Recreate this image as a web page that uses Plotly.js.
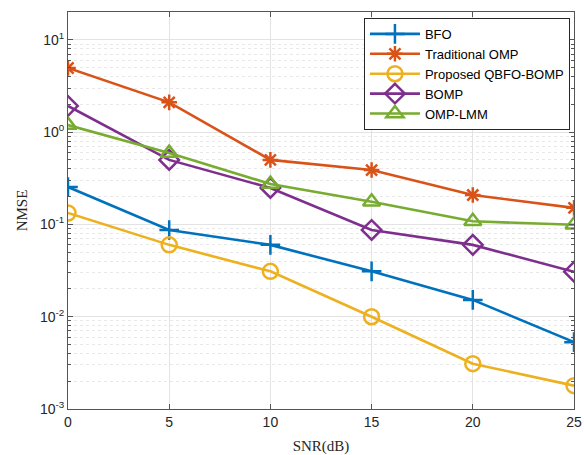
<!DOCTYPE html>
<html><head><meta charset="utf-8">
<script src="https://cdn.plot.ly/plotly-3.0.1.min.js"></script>
<style>html,body{margin:0;padding:0;background:#fff}</style>
</head><body>
<div id="chart" style="width:584px;height:455px"></div>
<script>
const snr = [0, 5, 10, 15, 20, 25];
const bfo = [0.254, 0.087, 0.060, 0.031, 0.0152, 0.0053];
const tradOmp = [4.95, 2.1, 0.50, 0.388, 0.208, 0.151];
const proposed = [0.133, 0.060, 0.031, 0.0100, 0.0031, 0.00179];
const bomp = [1.92, 0.50, 0.248, 0.087, 0.060, 0.0307];
const ompLmm = [1.19, 0.594, 0.274, 0.176, 0.108, 0.099];
const names = ['BFO', 'Traditional OMP', 'Proposed QBFO-BOMP', 'BOMP', 'OMP-LMM'];
const yTickVals = [0.001, 0.01, 0.1, 1, 10];
const yTickText = ['10<sup>-3</sup>', '10<sup>-2</sup>', '10<sup>-1</sup>', '10<sup>0</sup>', '10<sup>1</sup>'];
const xTickVals = [0, 5, 10, 15, 20, 25];

const colors = ['#0072BD', '#D95319', '#EDB120', '#7E2F8E', '#77AC30'];
const symbols = ['cross-thin-open', 'asterisk-open', 'circle-open', 'diamond-open', 'triangle-up-open'];
const sizes = [14, 13, 15, 15, 15];
const series = [bfo, tradOmp, proposed, bomp, ompLmm];

const traces = series.map((s, i) => ({
  x: snr, y: s, name: names[i], type: 'scatter', mode: 'lines+markers',
  line: {color: colors[i], width: 2.6},
  marker: {symbol: symbols[i], size: sizes[i], color: colors[i], line: {color: colors[i], width: 2.5}}
}));

const gridc = '#e3e3e3';
const layout = {
  width: 584, height: 455,
  margin: {l: 68, r: 10, t: 12, b: 46},
  paper_bgcolor: '#fff', plot_bgcolor: '#fff',
  font: {family: 'Liberation Sans, Arial, sans-serif', size: 14, color: '#262626'},
  showlegend: true,
  legend: {x: 0.992, xanchor: 'right', y: 0.985, yanchor: 'top', bgcolor: '#fff',
    bordercolor: '#262626', borderwidth: 1, font: {size: 13, color: '#000'},
    itemwidth: 50, tracegroupgap: 0},
  xaxis: {range: [0, 25], tickmode: 'array', tickvals: xTickVals,
    showgrid: true, gridcolor: gridc, gridwidth: 1,
    zeroline: false, showline: true, linecolor: '#555', linewidth: 1, mirror: 'ticks',
    ticks: 'inside', ticklen: 5, tickcolor: '#555',
    title: {text: 'SNR(dB)', font: {family: 'Liberation Serif, Times New Roman, serif', size: 15, color: '#262626'}, standoff: 12}},
  yaxis: {type: 'log', range: [-3, Math.log10(20)], tickmode: 'array', tickvals: yTickVals, ticktext: yTickText,
    showgrid: true, gridcolor: gridc, gridwidth: 1,
    minor: {dtick: 'D1', showgrid: true, gridcolor: '#e8e8e8', griddash: 'dot', ticks: 'inside', ticklen: 3, tickcolor: '#555'},
    zeroline: false, showline: true, linecolor: '#555', linewidth: 1, mirror: 'ticks',
    ticks: 'inside', ticklen: 5, tickcolor: '#555',
    title: {text: 'NMSE', font: {family: 'Liberation Serif, Times New Roman, serif', size: 15, color: '#262626'}, standoff: 8}}
};
Plotly.newPlot('chart', traces, layout, {displayModeBar: false, staticPlot: true});
</script>
</body></html>
